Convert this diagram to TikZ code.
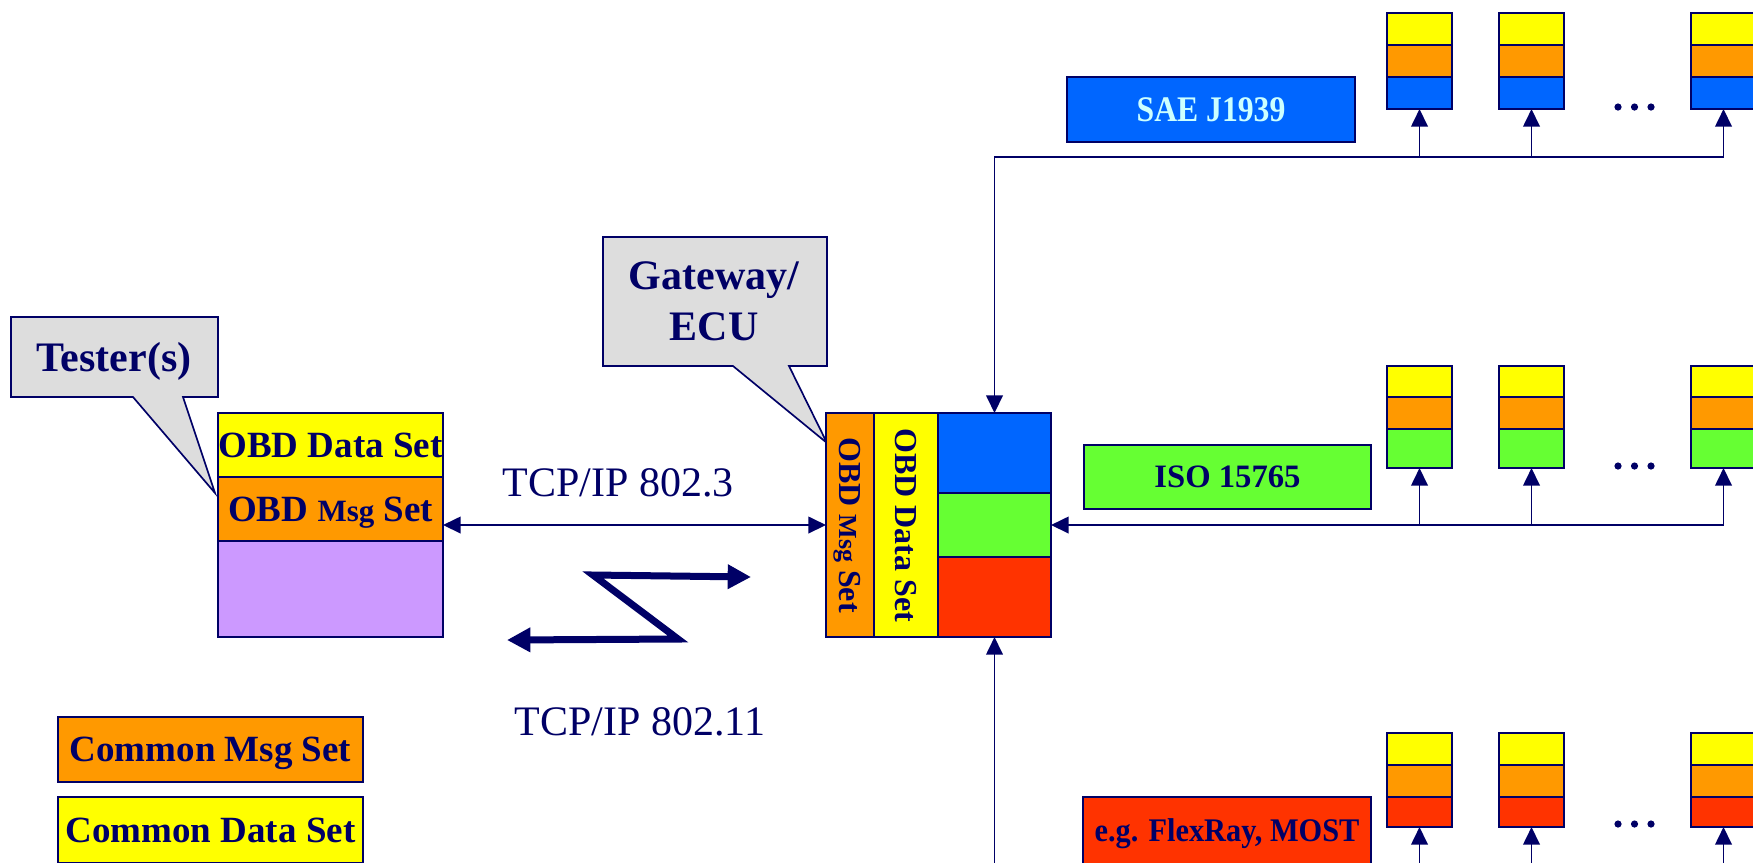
\documentclass[tikz,border=0pt]{standalone}
\usepackage{fontspec}
\setmainfont{Liberation Serif}
\usetikzlibrary{arrows.meta}

\definecolor{navy}{RGB}{0,0,102}
\definecolor{setyellow}{RGB}{255,255,0}
\definecolor{setorange}{RGB}{255,153,0}
\definecolor{toolpurple}{RGB}{204,153,255}
\definecolor{busblue}{RGB}{0,102,255}
\definecolor{busgreen}{RGB}{102,255,51}
\definecolor{busred}{RGB}{255,51,0}
\definecolor{calloutgray}{RGB}{221,221,221}
\definecolor{lightcyan}{RGB}{204,255,255}

% one drawing unit is one pixel of the layout grid
\def\pxu{0.3pt}
% zero-size label whose cap height is centred on the node centre
\newcommand\capmid[1]{\makebox[0pt]{\raisebox{-0.33em}[0pt][0pt]{#1}}}
% a filled layer box: name, fill, left, top, width, height, label
\newcommand\slab[7]{%
  \node[layer, fill=#2, minimum width=#5*\pxu, minimum height=#6*\pxu] (#1) at (#3,#4) {#7};}

\begin{document}
\begin{tikzpicture}[x=0.3pt, y=-0.3pt,
  layer/.style={draw=navy, line width=0.5pt, inner sep=0pt, outer sep=0pt,
                anchor=north west, text=navy},
  lbl/.style={inner sep=0pt, outer sep=0pt, text=navy},
  conn/.style={draw=navy, line width=0.55pt},
  callout/.style={draw=navy, line width=0.5pt, fill=calloutgray, line join=miter},
  navytip/.tip={Triangle[length=5.3pt,width=5pt]},
  radio/.style={draw=navy, line width=2.1pt, line join=miter,
                {Triangle[length=7pt,width=7pt]}-{Triangle[length=7pt,width=7pt]}},
]
\useasboundingbox (0,0) rectangle (1753,862);
\clip (0,0) rectangle (1753,862);

% ---------------- tester ----------------
\filldraw[callout] (11,317) -- (218,317) -- (218,397) -- (183,397) -- (215,493)
  -- (133,397) -- (11,397) -- cycle;
\node[lbl] (testerlbl) at (114,358)
  {\fontsize{12.6pt}{15pt}\selectfont\bfseries\capmid{Tester(s)}};

\slab{tdata}{setyellow}{218}{413}{225}{64}
  {\fontsize{11.1pt}{13pt}\selectfont\bfseries\capmid{OBD Data Set}}
\slab{tmsg}{setorange}{218}{477}{225}{64}
  {\fontsize{11.1pt}{13pt}\selectfont\bfseries\capmid{OBD {\fontsize{9.3pt}{11pt}\selectfont Msg} Set}}
\slab{tbase}{toolpurple}{218}{541}{225}{96}{}

% ---------------- gateway ----------------
\filldraw[callout] (603,237) -- (827,237) -- (827,366) -- (789,366) -- (827,443)
  -- (733,366) -- (603,366) -- cycle;
\node[lbl, anchor=south, align=center,
      font=\fontsize{12.6pt}{15.3pt}\selectfont\bfseries] (gwlbl) at (714,341)
  {Gateway/\\ECU};

\slab{gmsg}{setorange}{826}{413}{48}{224}{}
\slab{gdata}{setyellow}{874}{413}{64}{224}{}
\slab{gj1939}{busblue}{938}{413}{113}{80}{}
\slab{g15765}{busgreen}{938}{493}{113}{64}{}
\slab{gother}{busred}{938}{557}{113}{80}{}
\node[lbl, rotate=-90] (gmsglbl) at (gmsg.center)
  {\fontsize{9.6pt}{11pt}\selectfont\bfseries\capmid{OBD {\fontsize{7.8pt}{9pt}\selectfont Msg} Set}};
\node[lbl, rotate=-90] (gdatalbl) at (gdata.center)
  {\fontsize{9.6pt}{11pt}\selectfont\bfseries\capmid{OBD Data Set}};

% ---------------- tester to gateway links ----------------
\draw[conn, navytip-navytip] (tmsg.east |- gmsg.west) -- (gmsg.west);
\node[lbl, anchor=base] (wiredlbl) at (618,496)
  {\fontsize{12.6pt}{15pt}\selectfont TCP/IP 802.3};
\node[lbl, anchor=base] (wirelesslbl) at (640,735)
  {\fontsize{12.6pt}{15pt}\selectfont TCP/IP 802.11};
\coordinate (wl) at (507,640);
\coordinate (wa) at (678,639);
\coordinate (wb) at (593,575);
\coordinate (wr) at (751,577);
\draw[radio] (wl) -- (wa) -- (wb) -- (wr);

% ---------------- legend ----------------
\slab{cmsg}{setorange}{58}{717}{305}{65}
  {\fontsize{11.1pt}{13pt}\selectfont\bfseries\capmid{Common Msg Set}}
\slab{cdata}{setyellow}{58}{797}{305}{66}
  {\fontsize{11.1pt}{13pt}\selectfont\bfseries\capmid{Common Data Set}}

% ---------------- bus labels ----------------
\slab{sae}{busblue}{1067}{77}{288}{65}
  {\color{lightcyan}\fontsize{10.8pt}{13pt}\selectfont\bfseries\capmid{\scalebox{0.88}[1]{SAE J1939}}}
\slab{iso}{busgreen}{1084}{445}{287}{64}
  {\fontsize{9.8pt}{12pt}\selectfont\bfseries\capmid{ISO 15765}}
\slab{flex}{busred}{1083}{797}{288}{68}
  {\fontsize{9.9pt}{12pt}\selectfont\bfseries\capmid{\scalebox{0.92}[1]{e.g. FlexRay, MOST}}}

% ---------------- ECU stacks on each bus ----------------
\foreach \nm/\cx in {a/1387,b/1499,c/1691}{
  \slab{sae\nm y}{setyellow}{\cx}{13}{65}{32}{}
  \slab{sae\nm o}{setorange}{\cx}{45}{65}{32}{}
  \slab{sae\nm b}{busblue}{\cx}{77}{65}{32}{}
  \slab{iso\nm y}{setyellow}{\cx}{366}{65}{31}{}
  \slab{iso\nm o}{setorange}{\cx}{397}{65}{32}{}
  \slab{iso\nm g}{busgreen}{\cx}{429}{65}{39}{}
  \slab{fr\nm y}{setyellow}{\cx}{733}{65}{32}{}
  \slab{fr\nm o}{setorange}{\cx}{765}{65}{32}{}
  \slab{fr\nm r}{busred}{\cx}{797}{65}{30}{}
}
\foreach \dy in {107,466,824}
  \foreach \dx in {1618,1634.5,1651}
    \fill[navy] (\dx,\dy) circle[radius=3.6];

% ---------------- bus wiring ----------------
\coordinate (topbus) at (0,157);
\coordinate (botbus) at (0,900);

\draw[conn, navytip-] (gj1939.north) |- (saeab.south |- topbus);
\draw[conn] (saeab.south |- topbus) -- (saecb.south |- topbus);
\foreach \nm in {a,b,c}
  \draw[conn, -navytip] (sae\nm b.south |- topbus) -- (sae\nm b.south);

\draw[conn, navytip-] (g15765.east) -- (isoag.south |- g15765.east);
\draw[conn] (isoag.south |- g15765.east) -- (isocg.south |- g15765.east);
\foreach \nm in {a,b,c}
  \draw[conn, -navytip] (iso\nm g.south |- g15765.east) -- (iso\nm g.south);

\draw[conn, navytip-] (gother.south) -- (gother.south |- botbus);
\foreach \nm in {a,b,c}
  \draw[conn, -navytip] (fr\nm r.south |- botbus) -- (fr\nm r.south);
\end{tikzpicture}
\end{document}
